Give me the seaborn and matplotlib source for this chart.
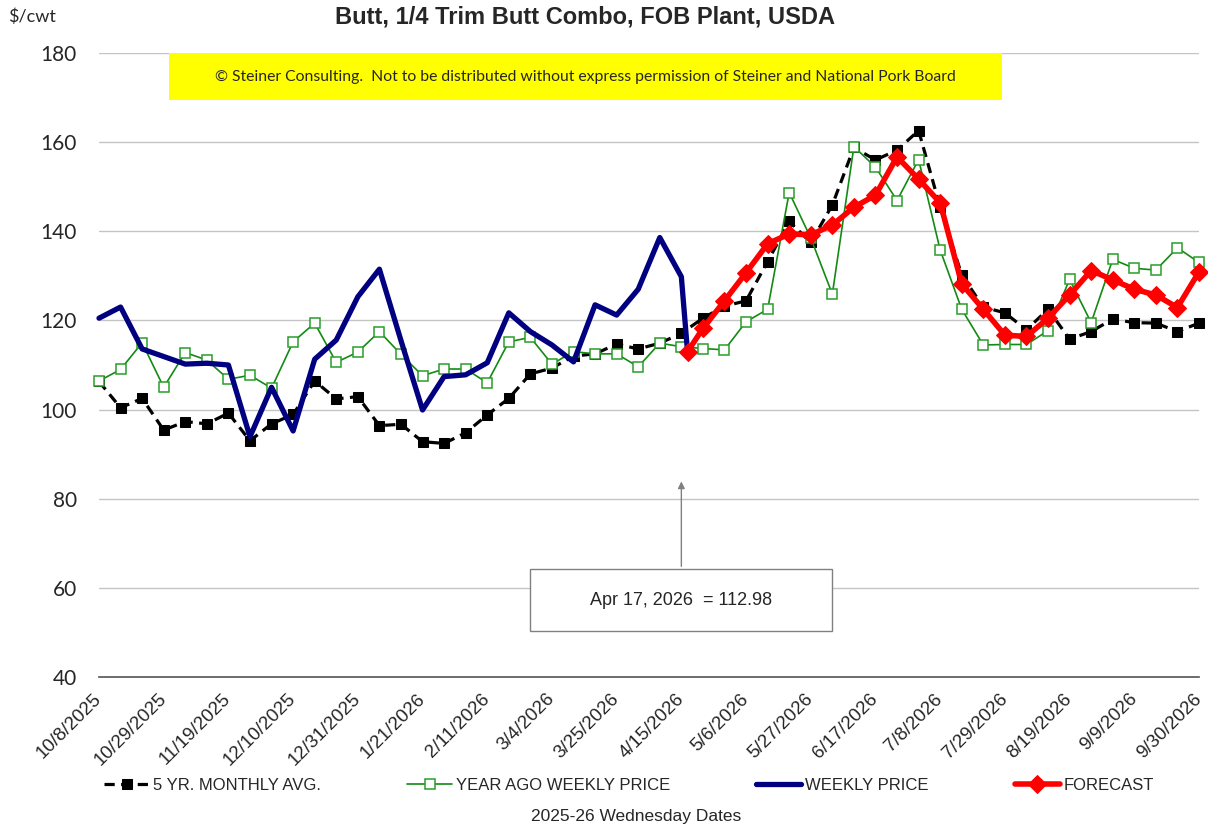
import pandas as pd
import matplotlib
matplotlib.use("Agg")
import matplotlib.pyplot as plt
import matplotlib.dates as mdates
from matplotlib.patches import Rectangle
import seaborn as sns

# weekly wednesday dates, 10/8/2025 .. 9/30/2026
weeks = pd.date_range("2025-10-08", "2026-09-30", freq="7D")
last_day = pd.Timestamp("2026-04-17")

five_yr_avg = [106.3, 100.4, 102.5, 95.4, 97.3, 96.8, 99.2, 93.0, 96.8, 98.9,
               106.4, 102.4, 102.9, 96.4, 96.7, 92.8, 92.4, 94.8, 98.8, 102.5,
               108.0, 109.3, 112.0, 112.5, 114.7, 113.6, 114.9, 117.1, 120.5, 123.2,
               124.4, 133.2, 142.2, 137.5, 145.9, 158.8, 156.0, 158.2, 162.6, 145.4,
               130.2, 123.0, 121.7, 117.9, 122.5, 115.8, 117.5, 120.3, 119.5, 119.4,
               117.5, 119.4]
year_ago = [106.4, 109.0, 115.0, 105.0, 112.8, 111.1, 106.8, 107.7, 104.8, 115.2,
            119.4, 110.6, 112.9, 117.5, 112.4, 107.6, 109.1, 109.1, 106.0, 115.2,
            116.2, 110.2, 113.0, 112.5, 112.5, 109.6, 114.9, 114.1, 113.7, 113.4,
            119.7, 122.5, 148.7, 138.5, 125.9, 159.0, 154.4, 146.9, 156.1, 135.8,
            122.5, 114.5, 114.6, 114.6, 117.7, 129.2, 119.5, 133.7, 131.7, 131.3,
            136.3, 133.0]
# wednesdays through 4/15 plus the 4/17 print
weekly_price = [120.5, 123.0, 113.6, 111.9, 110.2, 110.4, 110.0, 93.9, 105.0, 95.2,
                111.3, 115.6, 125.3, 131.5, 115.5, 99.9, 107.4, 107.8, 110.5, 121.7,
                117.5, 114.5, 110.7, 123.5, 121.2, 127.0, 138.6, 129.8, 112.98]
# 4/17 then wednesdays 4/22 .. 9/30
forecast = [112.98, 118.2, 124.4, 130.7, 137.2, 139.4, 139.2, 141.4, 145.4, 148.1,
            156.7, 151.7, 146.4, 128.2, 122.5, 116.7, 116.4, 120.5, 125.7, 131.2,
            129.1, 127.0, 125.7, 122.9, 130.9]

weekly_dates = list(weeks[:28]) + [last_day]
forecast_dates = [last_day] + list(weeks[28:])
tick_dates = weeks[::3]
tick_labels = [f"{d.month}/{d.day}/{d.year}" for d in tick_dates]

sns.set_style("white")
plt.rcParams["font.family"] = ["Liberation Sans", "DejaVu Sans"]

fig, ax = plt.subplots(figsize=(12.08, 8.33), dpi=100)
fig.subplots_adjust(left=99 / 1208, right=1199 / 1208, top=1 - 53 / 833, bottom=1 - 677 / 833)

sns.lineplot(x=weeks, y=five_yr_avg, ax=ax, color="black", linewidth=2.3,
             linestyle=(0, (3.2, 2)), marker="s", markersize=6.5,
             markerfacecolor="black", markeredgecolor="black", label="5 YR. MONTHLY AVG.",
             clip_on=False)
sns.lineplot(x=weeks, y=year_ago, ax=ax, color="#138a13", linewidth=1.2,
             marker="s", markersize=7, markerfacecolor="white",
             markeredgecolor="#2a9d2a", markeredgewidth=1.1, label="YEAR AGO WEEKLY PRICE",
             clip_on=False)
sns.lineplot(x=weekly_dates, y=weekly_price, ax=ax, color="#000080", linewidth=3.8,
             label="WEEKLY PRICE", clip_on=False)
sns.lineplot(x=forecast_dates, y=forecast, ax=ax, color="#ff0000", linewidth=4,
             marker="D", markersize=9, markerfacecolor="#ff0000",
             markeredgecolor="#ff0000", label="FORECAST", clip_on=False)

ax.set_xlim(weeks[0], weeks[-1])
ax.set_ylim(40, 180)
ax.set_yticks(range(40, 181, 20))
ax.yaxis.grid(True, color="#c4c4c4", linewidth=1)
ax.xaxis.grid(False)
for s in ["left", "right", "top"]:
    ax.spines[s].set_visible(False)
ax.spines["bottom"].set_color("#555555")
ax.spines["bottom"].set_linewidth(1.2)

ax.set_xticks(tick_dates)
ax.set_xticklabels(tick_labels, rotation=45, ha="right", va="center",
                   rotation_mode="anchor", fontsize=13.5)
ax.tick_params(axis="x", direction="out", length=5, width=1, color="#555555", pad=9)
ax.tick_params(axis="y", length=0, pad=16, labelsize=15)
for t in ax.get_yticklabels():
    t.set_fontfamily(["Lato", "DejaVu Sans"])
ax.set_xlabel("")
ax.set_ylabel("")

# copyright banner
ax.add_patch(Rectangle((0.0636, 0.9247), 0.7575, 0.0753, transform=ax.transAxes,
                       facecolor="#ffff00", edgecolor="none", zorder=1))
ax.text(0.4423, 0.962,
        "© Steiner Consulting.  Not to be distributed without express permission of Steiner and National Pork Board",
        transform=ax.transAxes, ha="center", va="center", fontsize=11.3,
        family=["Lato", "DejaVu Sans"], zorder=2)

# callout for latest price
mid = mdates.date2num(weeks[27])
ax.add_patch(Rectangle((mid - 49, 50.3), 98, 13.9, facecolor="white",
                       edgecolor="#808080", linewidth=1, zorder=3))
ax.text(mid, 57.2, "Apr 17, 2026  = 112.98", ha="center", va="center", fontsize=13, zorder=4)
ax.annotate("", xy=(mid, 84.5), xytext=(mid, 64.2),
            arrowprops=dict(arrowstyle="-|>", color="#808080", lw=1, mutation_scale=10))

fig.text(585 / 1208, 1 - 17 / 833, "Butt, 1/4 Trim Butt Combo, FOB Plant, USDA",
         ha="center", va="center", fontsize=17, fontweight="bold")
fig.text(8 / 1208, 1 - 17 / 833, "$/cwt", ha="left", va="center", fontsize=13,
         family=["Lato", "DejaVu Sans"], parse_math=False)
fig.text(636 / 1208, 1 - 816 / 833, "2025-26 Wednesday Dates", ha="center", va="center", fontsize=12.5)

handles, labels = ax.get_legend_handles_labels()
ax.get_legend().remove()
fig.legend(handles, labels, loc="center", bbox_to_anchor=(629 / 1208, 1 - 785 / 833),
           ncol=4, frameon=False, fontsize=12, handlelength=2.7, handletextpad=0.2,
           columnspacing=5.2)

fig.savefig("out.png", dpi=100)
